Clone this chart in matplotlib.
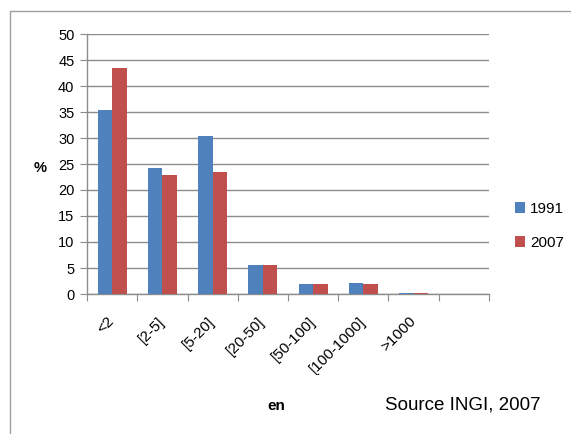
import numpy as np
import matplotlib
matplotlib.use('Agg')
import matplotlib.pyplot as plt
from matplotlib.patches import Rectangle
from matplotlib.transforms import Bbox

plt.rcParams['font.family'] = ['Liberation Sans', 'DejaVu Sans']

# données
categories = ['<2', '[2-5]', '[5-20]', '[20-50]', '[50-100]', '[100-1000]', '>1000', '']
val_1991 = [35.3, 24.2, 30.4, 5.6, 2.0, 2.2, 0.25, 0]
val_2007 = [43.5, 22.9, 23.4, 5.6, 2.0, 1.9, 0.15, 0]
series = ['1991', '2007']

blue = '#4F81BD'
red = '#C0504D'
grid_col = '#8C8C8C'

fig = plt.figure(figsize=(5.71, 4.34), dpi=100)
ax = fig.add_axes([87 / 571, 1 - 294 / 434, 402 / 571, 260 / 434])

x = np.arange(len(categories))
w = 0.29
ax.bar(x - w / 2, val_1991, w, color=blue, label=series[0], zorder=3)
ax.bar(x + w / 2, val_2007, w, color=red, label=series[1], zorder=3)

ax.set_xlim(-0.5, len(categories) - 0.5)
ax.set_ylim(0, 50)
ax.set_yticks(np.arange(0, 51, 5))
ax.yaxis.grid(True, color=grid_col, linewidth=1)
ax.set_axisbelow(True)

for s in ['top', 'right']:
    ax.spines[s].set_visible(False)
for s in ['left', 'bottom']:
    ax.spines[s].set_color(grid_col)
    ax.spines[s].set_linewidth(1)

# ticks aux limites des catégories, étiquettes au centre
ax.set_xticks(np.arange(-0.5, len(categories) + 0.5, 1))
ax.set_xticklabels([])
ax.set_xticks(x, minor=True)
ax.set_xticklabels(categories[:-1] + [''], minor=True, rotation=45,
                   ha='right', va='center', rotation_mode='anchor', fontsize=11)
ax.tick_params(axis='x', which='major', length=5, color=grid_col, direction='out')
ax.tick_params(axis='x', which='minor', length=0, pad=18)
ax.tick_params(axis='y', length=5, color=grid_col, direction='out', labelsize=10.5, pad=4)

# étiquettes coupées en bas comme dans l'original
clip = Bbox.from_extents(0, 434 - 375, 571, 434)
for lbl in ax.get_xticklabels(minor=True):
    lbl.set_clip_on(True)
    lbl.set_clip_box(clip)

fig.text(40 / 571, 1 - 168 / 434, '%', fontsize=10.5, fontweight='bold', ha='center', va='center')
fig.text(276 / 571, 1 - 406 / 434, 'en', fontsize=11, fontweight='bold', ha='center', va='center')
fig.text(385 / 571, 1 - 405 / 434, 'Source INGI, 2007', fontsize=13.5, ha='left', va='center')

leg = ax.legend(loc='center left', bbox_to_anchor=(501 / 571, 1 - 226 / 434),
                bbox_transform=fig.transFigure, frameon=False, fontsize=11,
                handlelength=0.7, handleheight=0.7, handletextpad=0.3, labelspacing=1.3)

# cadre du graphique
fig.patches.append(Rectangle((10 / 571, -0.1), 1.2, 1 - 11 / 434 + 0.1,
                             transform=fig.transFigure, fill=False,
                             edgecolor='#A0A0A0', linewidth=1, figure=fig))

fig.savefig('out.png', dpi=100)
